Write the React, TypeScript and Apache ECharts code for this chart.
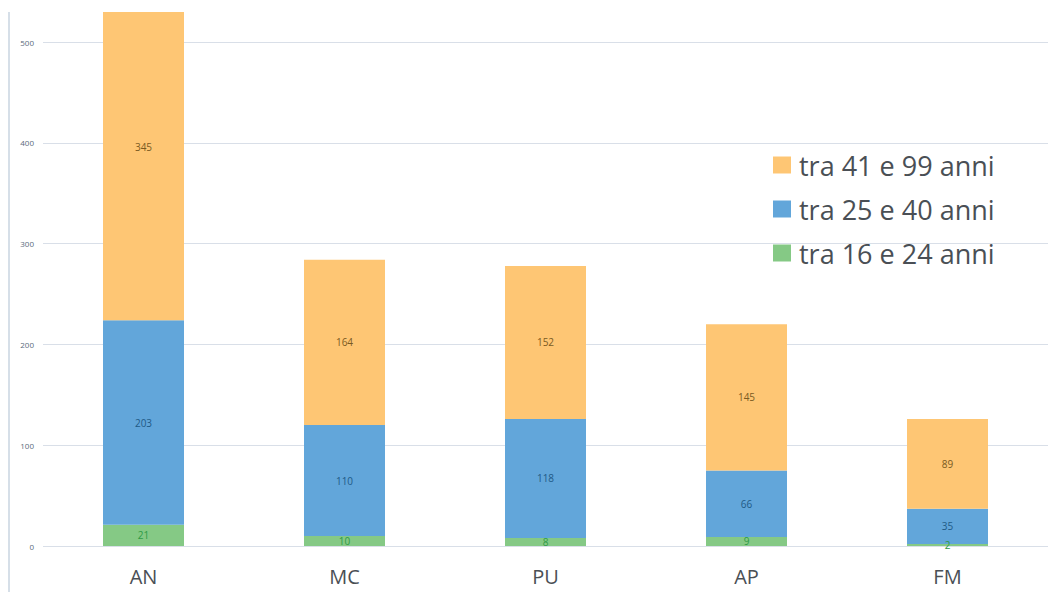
import React, { useEffect, useRef } from "react";
import * as echarts from "echarts";

const categories = ["AN", "MC", "PU", "AP", "FM"];
const age16to24 = [21, 10, 8, 9, 2];
const age25to40 = [203, 110, 118, 66, 35];
const age41to99 = [345, 164, 152, 145, 89];
const seriesNames = ["tra 16 e 24 anni", "tra 25 e 40 anni", "tra 41 e 99 anni"];
const yTicks = [0, 100, 200, 300, 400, 500];

const FONT = "'Open Sans', 'Noto Sans', sans-serif";

export default function App() {
  const ref = useRef<HTMLDivElement>(null);
  useEffect(() => {
    document.body.style.margin = "0";
    const chart = echarts.init(ref.current!, null, { renderer: "svg" });
    const mk = (name: string, data: number[], color: string, labelColor: string) => ({
      name,
      type: "bar",
      stack: "total",
      data,
      barWidth: 81,
      clip: false,
      itemStyle: { color },
      label: {
        show: true,
        position: "inside",
        color: labelColor,
        fontSize: 10,
        fontFamily: FONT,
      },
    });
    chart.setOption({
      animation: false,
      backgroundColor: "#ffffff",
      grid: { left: 43, right: 8, top: 12, bottom: 46 },
      legend: {
        orient: "vertical",
        left: 768,
        top: 145,
        padding: 5,
        itemWidth: 18,
        itemHeight: 17,
        itemGap: 14,
        icon: "rect",
        data: [seriesNames[2], seriesNames[1], seriesNames[0]],
        textStyle: {
          fontFamily: FONT,
          fontSize: 27,
          color: "#4A4F55",
          lineHeight: 30,
          padding: [0, 0, 0, 3],
        },
      },
      xAxis: {
        type: "category",
        data: categories,
        axisLine: { show: false },
        axisTick: { show: false },
        axisLabel: {
          fontFamily: FONT,
          fontSize: 20,
          color: "#4A4F55",
          margin: 20,
        },
      },
      yAxis: {
        type: "value",
        min: 0,
        max: 530,
        interval: 100,
        axisLine: { show: false },
        axisTick: { show: false },
        splitLine: {
          show: true,
          showMaxLine: false,
          lineStyle: { color: "#D9DFE8", width: 1 },
        },
        axisLabel: {
          fontFamily: FONT,
          fontSize: 8,
          color: "#5A6B7C",
          margin: 9,
          showMaxLabel: false,
          formatter: (v: number) => (yTicks.includes(v) ? String(v) : ""),
        },
      },
      series: [
        mk(seriesNames[0], age16to24, "#85C985", "#2F9A45"),
        mk(seriesNames[1], age25to40, "#62A6DA", "#1F5A86"),
        mk(seriesNames[2], age41to99, "#FEC674", "#7A5A22"),
      ],
      graphic: [
        {
          type: "rect",
          z: 100,
          shape: { x: 0, y: 0, width: 1056, height: 12 },
          style: { fill: "#ffffff" },
        },
        {
          type: "line",
          z: 100,
          shape: { x1: 9, y1: 12, x2: 9, y2: 592 },
          style: { stroke: "#C9D5E0", lineWidth: 1.5 },
        },
      ],
    });
    return () => chart.dispose();
  }, []);
  return <div ref={ref} style={{ width: 1056, height: 592 }} />;
}
